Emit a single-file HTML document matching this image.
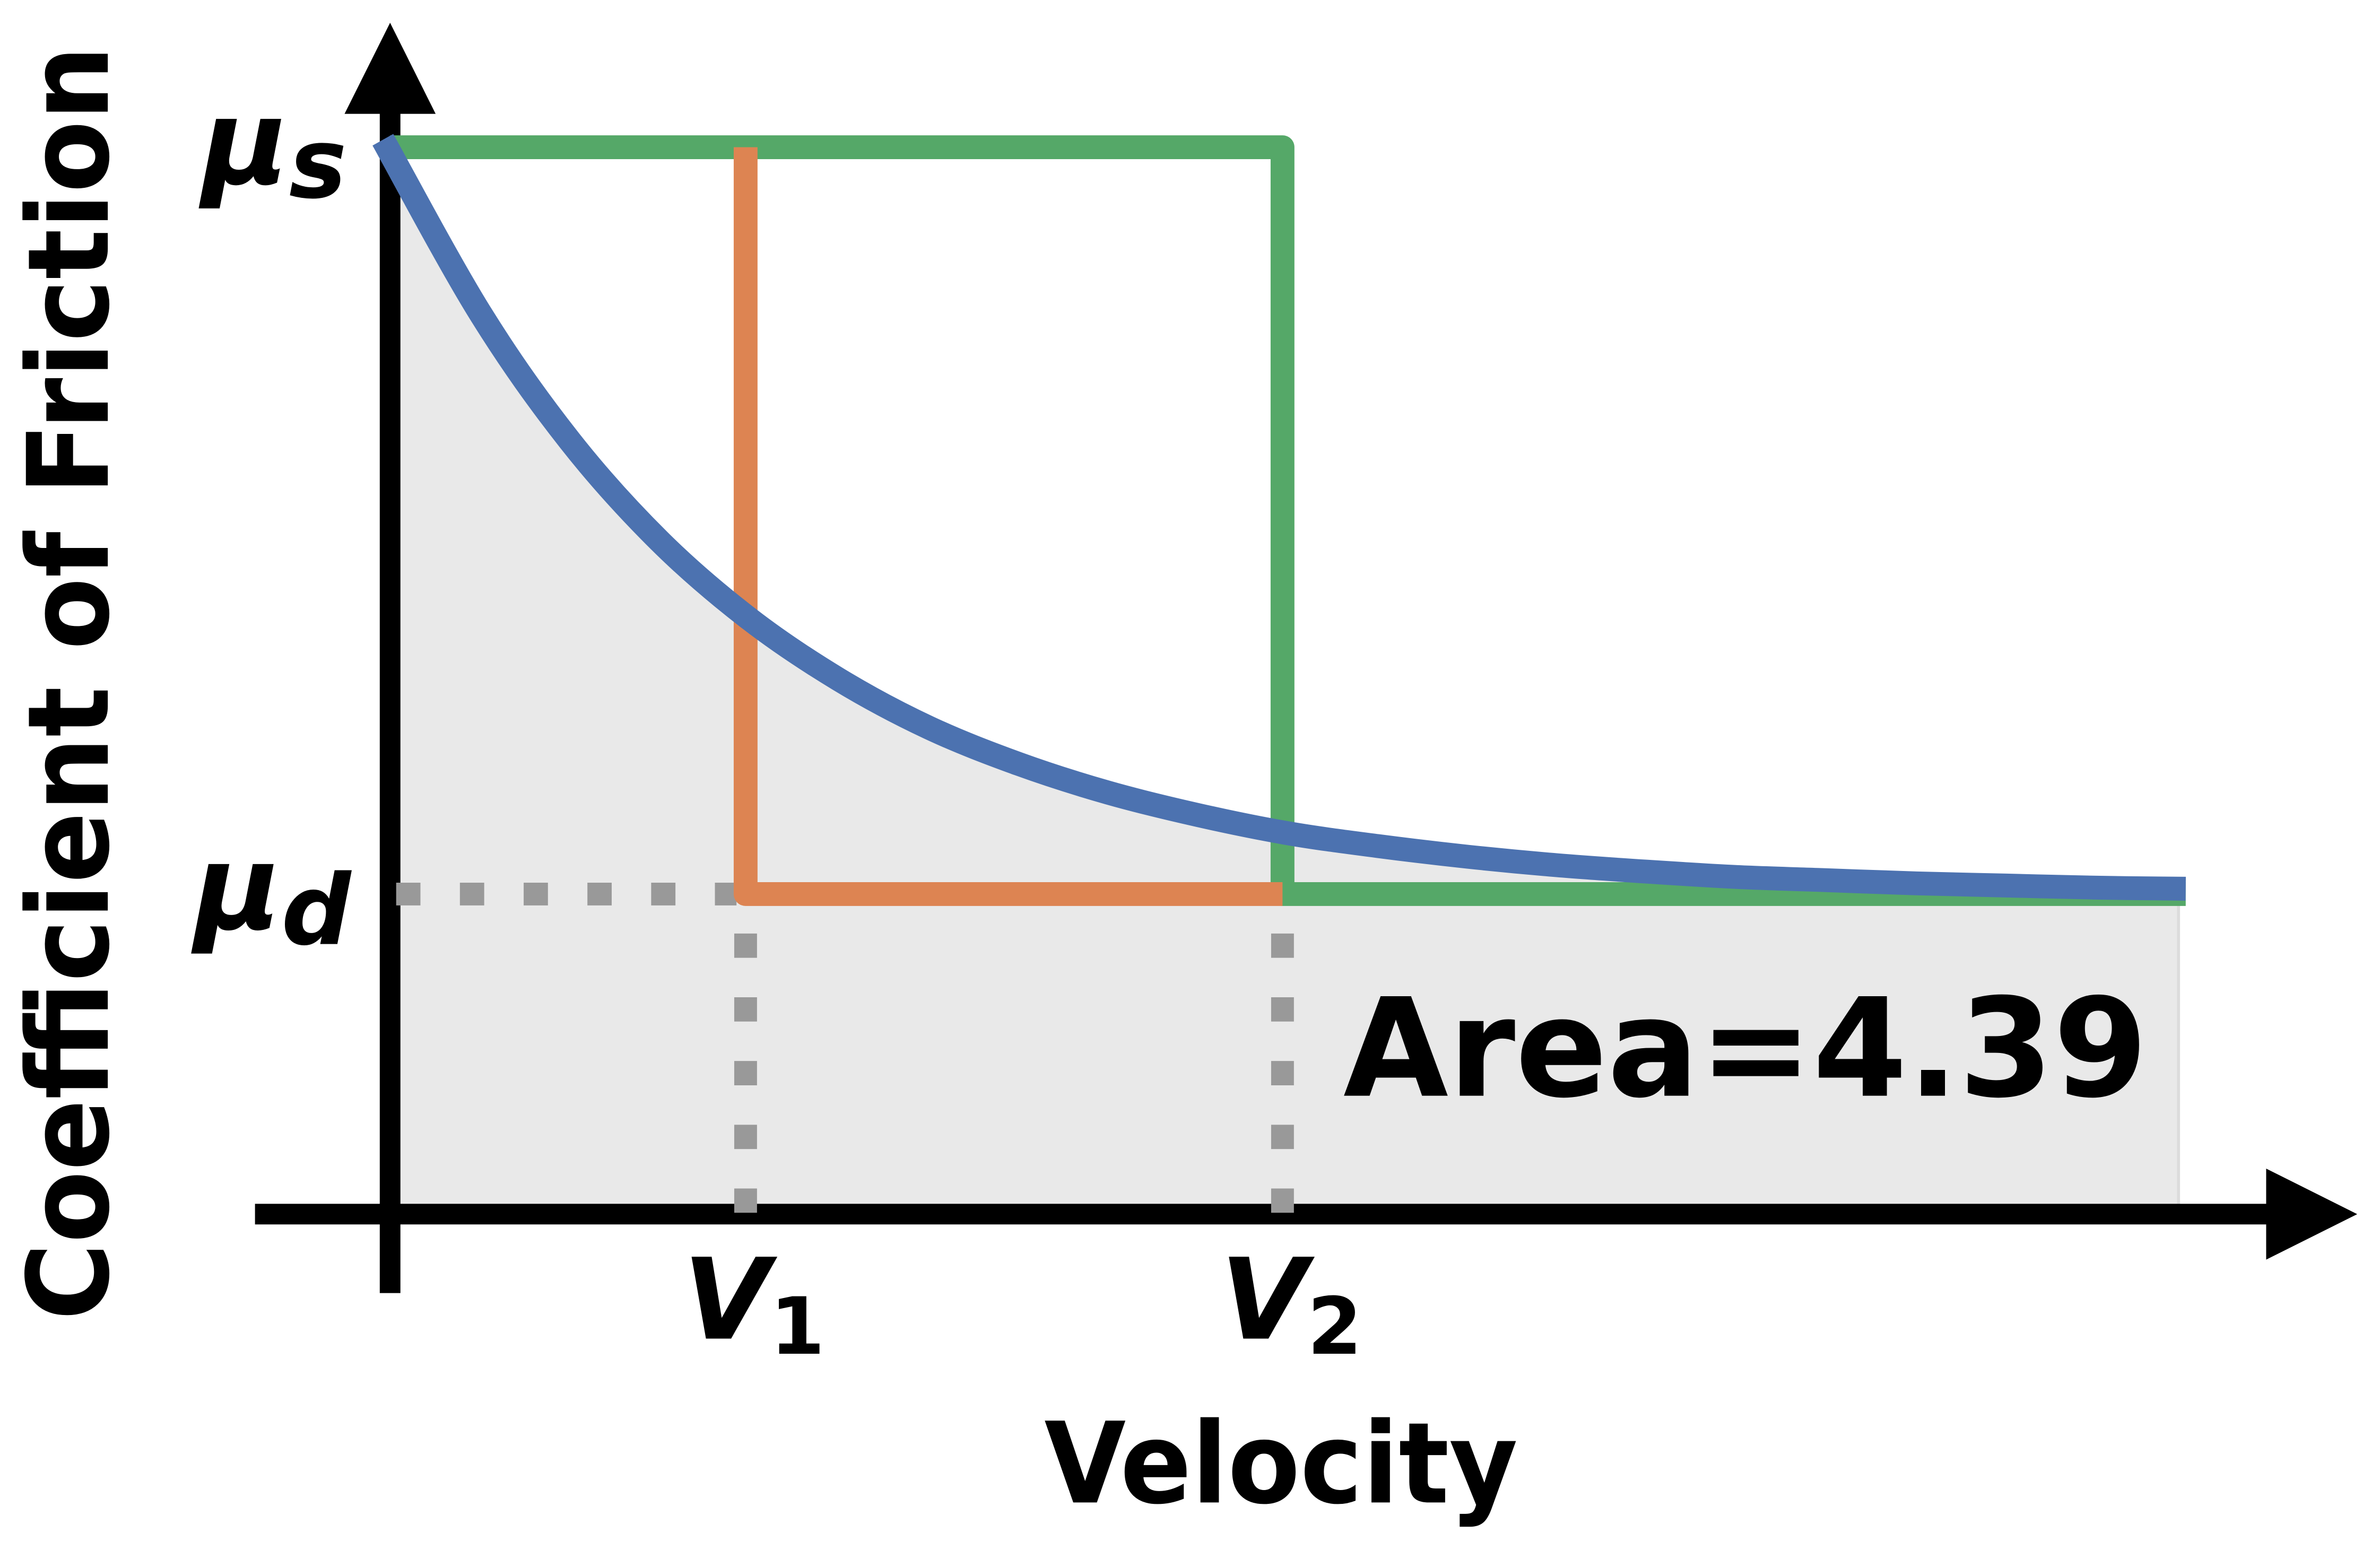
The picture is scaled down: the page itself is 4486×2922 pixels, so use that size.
<!DOCTYPE html>
<html><head><meta charset="utf-8"><style>
html,body{margin:0;padding:0;background:#fff;}
svg{display:block;}
text{font-family:"DejaVu Sans","Liberation Sans",sans-serif;font-weight:bold;fill:#000;}
</style></head><body>
<svg id="chart" width="4486" height="2922" viewBox="0 0 1568 1021.3" preserveAspectRatio="none" xmlns="http://www.w3.org/2000/svg">
<g id="fill-layer"></g>
<g id="axes-layer">
  <line x1="257" y1="60" x2="257" y2="852" stroke="#000" stroke-width="13.6"/>
  <polygon points="257,15 227,75 287,75" fill="#000"/>
  <line x1="168" y1="800" x2="1500" y2="800" stroke="#000" stroke-width="13.6"/>
  <polygon points="1553,800 1493,770 1493,830" fill="#000"/>
</g>
<g id="lines-layer"></g>
<text transform="translate(71,870) rotate(-90)" font-size="74" textLength="840" lengthAdjust="spacingAndGlyphs">Coefficient of Friction</text>
<text x="688" y="990" font-size="74" textLength="312" lengthAdjust="spacingAndGlyphs">Velocity</text>
<text x="885" y="722" font-size="90" textLength="530" lengthAdjust="spacingAndGlyphs">Area=4.39</text>
<text x="133" y="121" font-size="78" font-style="italic">μ<tspan font-size="64" dy="9">s</tspan></text>
<text x="128" y="612" font-size="78" font-style="italic">μ<tspan font-size="64" dy="10">d</tspan></text>
<text x="450" y="882" font-size="74" font-style="italic">V<tspan font-size="52" font-style="normal" dy="10">1</tspan></text>
<text x="804" y="882" font-size="74" font-style="italic">V<tspan font-size="52" font-style="normal" dy="10">2</tspan></text>
</svg>
<script>
const velocities = [-0.02,0.25,0.5,0.75,1,1.25,1.5,1.75,2,2.25,2.5,2.75,3,3.25,3.5,3.75,4,4.25,4.5,4.75,5];
const frictionValues = [1.007,0.845,0.725,0.631,0.558,0.501,0.456,0.422,0.395,0.374,0.357,0.345,0.335,0.327,0.321,0.316,0.313,0.31,0.308,0.306,0.305];
const muStatic = 1.0;
const muDynamic = 0.3;
const v1 = 0.99;
const v2 = 2.485;
const vMax = 5;
const fillEnd = 4.98;

const NS = 'http://www.w3.org/2000/svg';
function xs(v){ return 257 + v*236.6; }
function ys(m){ return 800 - m*703; }
function mk(tag, attrs, parent){ const e=document.createElementNS(NS,tag); for(const k in attrs) e.setAttribute(k,attrs[k]); parent.appendChild(e); return e; }

function smoothPath(pts){
  let d='M'+pts[0][0]+','+pts[0][1];
  for(let i=0;i<pts.length-1;i++){
    const p0=pts[Math.max(0,i-1)],p1=pts[i],p2=pts[i+1],p3=pts[Math.min(pts.length-1,i+2)];
    const c1=[p1[0]+(p2[0]-p0[0])/6,p1[1]+(p2[1]-p0[1])/6];
    const c2=[p2[0]-(p3[0]-p1[0])/6,p2[1]-(p3[1]-p1[1])/6];
    d+=' C'+c1[0]+','+c1[1]+' '+c2[0]+','+c2[1]+' '+p2[0]+','+p2[1];
  }
  return d;
}
const pts = velocities.map((v,i)=>[xs(v),ys(frictionValues[i])]);
const curveD = smoothPath(pts);

const fillG = document.getElementById('fill-layer');
const clip = mk('clipPath',{id:'fillclip'},fillG);
mk('rect',{x:xs(0.025),y:0,width:xs(fillEnd)-xs(0.025),height:1021},clip);
const area = mk('path',{d:curveD+' L'+xs(vMax)+','+ys(0)+' L'+xs(0)+','+ys(0)+' Z',fill:'#e9e9e9','clip-path':'url(#fillclip)'},fillG);


const edge = mk('line',{x1:xs(fillEnd),y1:ys(muDynamic),x2:xs(fillEnd),y2:ys(0),stroke:'#dcdcdc','stroke-width':2},fillG);



const L = document.getElementById('lines-layer');
const dotH = mk('line',{x1:xs(0)+4,y1:ys(muDynamic),x2:xs(v1)-6,y2:ys(muDynamic),stroke:'#999','stroke-width':15,'stroke-dasharray':'16 26'},L);


[v1,v2].forEach((v,i)=>{
  const g = mk('line',{x1:xs(v),y1:ys(muDynamic)+26,x2:xs(v),y2:ys(0),stroke:'#999','stroke-width':15,'stroke-dasharray':'16 26'},L);
  
  
});
const green = mk('polyline',{points:[[xs(0),ys(muStatic)],[xs(v2),ys(muStatic)],[xs(v2),ys(muDynamic)],[xs(vMax),ys(muDynamic)]].map(p=>p.join(',')).join(' '),fill:'none',stroke:'#55a868','stroke-width':15.7,'stroke-linejoin':'round'},L);


const orange = mk('polyline',{points:[[xs(v1),ys(muStatic)],[xs(v1),ys(muDynamic)],[xs(v2),ys(muDynamic)]].map(p=>p.join(',')).join(' '),fill:'none',stroke:'#dd8452','stroke-width':15.7,'stroke-linejoin':'round'},L);


const blue = mk('path',{d:curveD,fill:'none',stroke:'#4c72b0','stroke-width':15.7},L);


</script>
</body></html>
